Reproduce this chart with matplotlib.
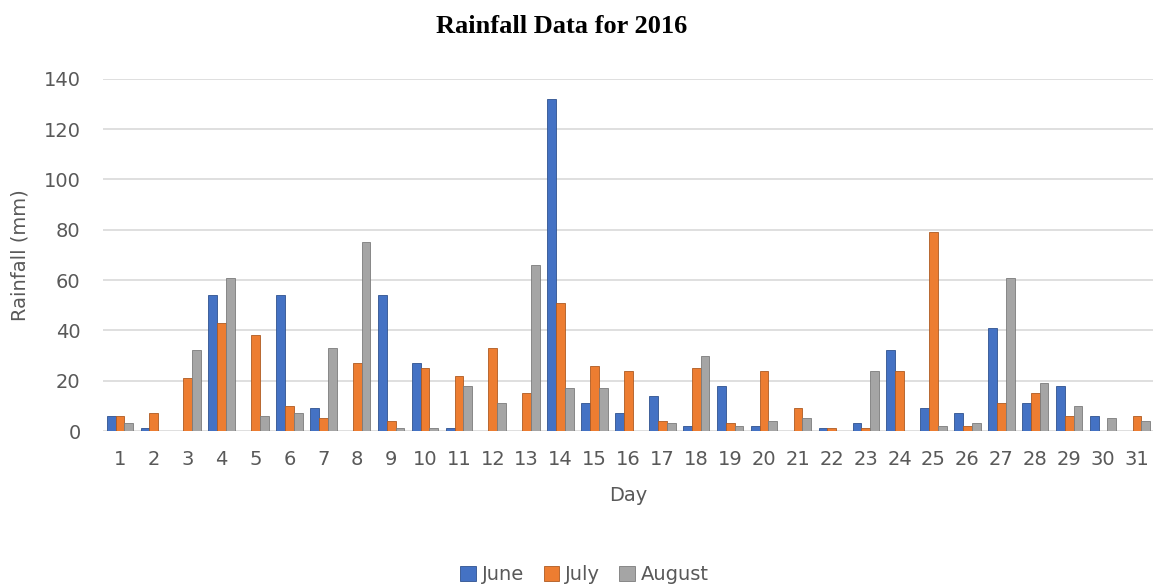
import numpy as np
import matplotlib.pyplot as plt

# daily rainfall (mm)
days = list(range(1, 32))
june = [6, 1, 0, 54, 0, 54, 9, 0, 54, 27, 1, 0, 0, 132, 11, 7, 14, 2, 18, 2,
        0, 1, 3, 32, 9, 7, 41, 11, 18, 6, 0]
july = [6, 7, 21, 43, 38, 10, 5, 27, 4, 25, 22, 33, 15, 51, 26, 24, 4, 25, 3, 24,
        9, 1, 1, 24, 79, 2, 11, 15, 6, 0, 6]
august = [3, 0, 32, 61, 6, 7, 33, 75, 1, 1, 18, 11, 66, 17, 17, 0, 3, 30, 2, 4,
          5, 0, 24, 0, 2, 3, 61, 19, 10, 5, 4]

series = [("June", june, "#4472C4", "#2F528F"),
          ("July", july, "#ED7D31", "#AE5A21"),
          ("August", august, "#A5A5A5", "#7B7B7B")]

fig = plt.figure(figsize=(11.53, 5.88), dpi=100)
ax = fig.add_axes([0.0893, 0.267, 0.9115, 0.599])

x = np.array(days)
w = 0.26
for i, (name, vals, col, edge) in enumerate(series):
    ax.bar(x + (i - 1) * w, vals, width=w, color=col, edgecolor=edge,
           linewidth=0.6, label=name, zorder=3)

ax.set_xlim(0.5, 31.5)
ax.set_ylim(0, 140)
ax.set_yticks(range(0, 141, 20))
ax.set_xticks(days)
ax.grid(axis='y', color='#d9d9d9', linewidth=1.2, zorder=0)
for s in ax.spines.values():
    s.set_visible(False)
ax.tick_params(length=0, labelsize=14, labelcolor='#595959')
ax.tick_params(axis='x', pad=14)
ax.tick_params(axis='y', pad=16)

ax.set_xlabel("Day", fontsize=14, color='#595959', labelpad=12)
ax.set_ylabel("Rainfall (mm)", fontsize=14, color='#595959', labelpad=10)
fig.text(0.487, 0.955, "Rainfall Data for 2016", ha='center', va='center',
         fontsize=19, fontweight='bold', family='Liberation Serif')

fig.legend(loc='center', bbox_to_anchor=(0.507, 0.023), ncol=3, frameon=False,
           fontsize=14, handlelength=0.8, handleheight=0.8, handletextpad=0.3,
           columnspacing=1.0, labelcolor='#595959')

fig.savefig("out.png", dpi=100)
